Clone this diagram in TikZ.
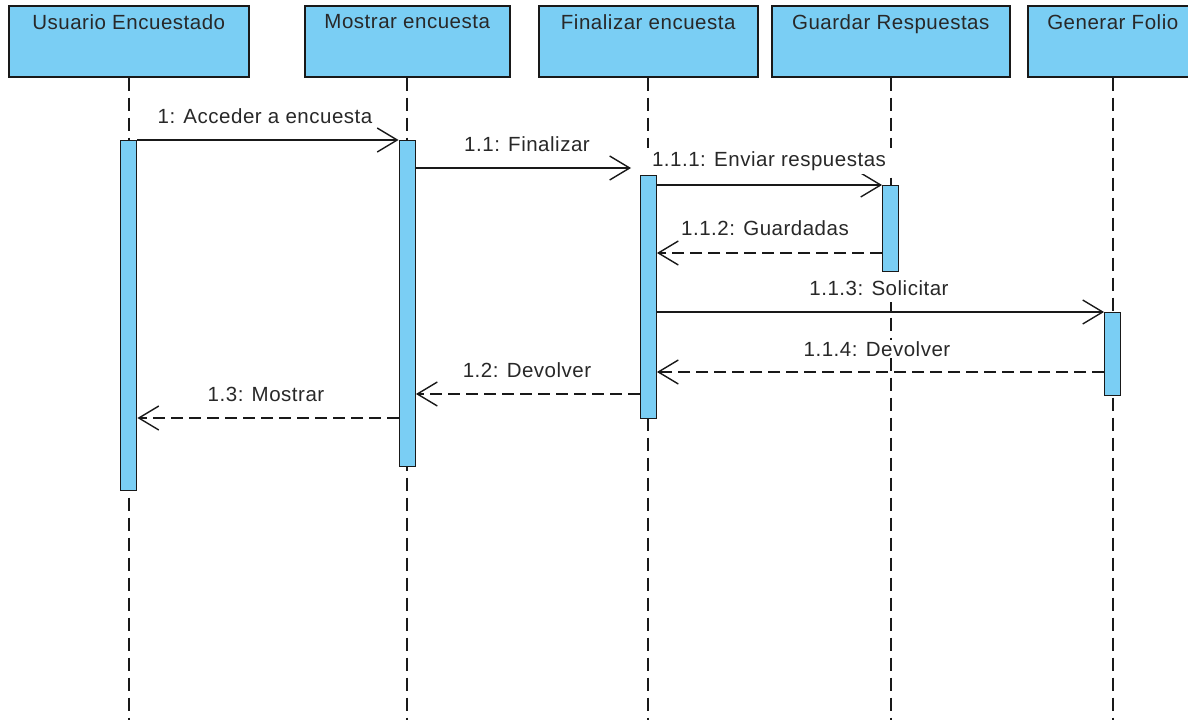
\documentclass[tikz,border=0pt]{standalone}
\usepackage{fontspec}
\setmainfont{Liberation Sans}[LetterSpace=2.5]
\usetikzlibrary{arrows.meta}
\definecolor{lblue}{RGB}{122,206,244}
\definecolor{ink}{RGB}{25,25,25}
\definecolor{txt}{RGB}{40,40,40}
\begin{document}
\begin{tikzpicture}[x=1pt,y=-1pt,
  head/.style={draw=ink, fill=lblue, line width=1.5pt, minimum height=71pt, anchor=north west, inner sep=0pt},
  htext/.style={font=\fontsize{20.5}{24}\selectfont, text=txt, anchor=north, inner sep=0pt},
  life/.style={draw=ink, line width=1.6pt, dash pattern=on 13pt off 7pt},
  bar/.style={draw=ink, fill=lblue, line width=1.4pt, minimum width=16pt, anchor=north, inner sep=0pt},
  msg/.style={draw=ink, line width=1.4pt, -{Straight Barb[length=20pt,width=24pt,line width=1.4pt]}},
  ret/.style={msg, dash pattern=on 12pt off 6pt},
  lbl/.style={font=\fontsize{20.5}{24}\selectfont, text=txt, fill=white, inner sep=1.5pt}
]
\useasboundingbox (0,0) rectangle (1188,720);
\fill[white] (0,0) rectangle (1188,720);

% headers
\node[head, minimum width=240pt] (h1) at (8,5) {};
\node[head, minimum width=205pt] (h2) at (304,5) {};
\node[head, minimum width=219pt] (h3) at (538,5) {};
\node[head, minimum width=238pt] (h4) at (771,5) {};
\node[head, minimum width=170pt] (h5) at (1027,5) {};
\node[htext] (t1) at ([yshift=-9pt]h1.north) {Usuario Encuestado};
\node[htext] (t2) at ([yshift=-9pt]h2.north) {Mostrar encuesta};
\node[htext] (t3) at ([yshift=-9pt]h3.north) {Finalizar encuesta};
\node[htext] (t4) at ([yshift=-9pt]h4.north) {Guardar Respuestas};
\node[htext] (t5) at ([yshift=-9pt]h5.north) {Generar Folio};

% lifeline ends
\coordinate (e1) at (h1.south |- 0,720);
\coordinate (e2) at (h2.south |- 0,720);
\coordinate (e3) at (h3.south |- 0,720);
\coordinate (e4) at (h4.south |- 0,720);
\coordinate (e5) at (h5.south |- 0,720);
\draw[life] (h1.south) -- (e1);
\draw[life] (h2.south) -- (e2);
\draw[life] (h3.south) -- (e3);
\draw[life] (h4.south) -- (e4);
\draw[life] (h5.south) -- (e5);

% activation bars
\node[bar, minimum height=350pt] (a1) at (h1.south |- 0,140) {};
\node[bar, minimum height=326pt] (a2) at (h2.south |- 0,140) {};
\node[bar, minimum height=243pt] (a3) at (h3.south |- 0,175) {};
\node[bar, minimum height=86pt] (a4) at (h4.south |- 0,185) {};
\node[bar, minimum height=83pt] (a5) at (h5.south |- 0,312) {};

% messages
\coordinate (m2end) at (631,168);
\draw[msg] (a1.north east) -- (a2.north west);
\draw[msg] (a2.east |- 0,168) -- (m2end);
\draw[msg] (a3.east |- 0,185) -- (a4.north west);
\draw[ret] (a4.west |- 0,253) -- (a3.east |- 0,253);
\draw[msg] (a3.east |- 0,312) -- (a5.north west);
\draw[ret] (a5.west |- 0,372) -- (a3.east |- 0,372);
\draw[ret] (a3.west |- 0,394) -- (a2.east |- 0,394);
\draw[ret] (a2.west |- 0,418) -- (a1.east |- 0,418);

% labels
\node[lbl] (l1) at (265,116) {1: Acceder a encuesta};
\node[lbl] (l2) at (527,144) {1.1: Finalizar};
\node[lbl, inner xsep=14pt, inner ysep=3pt] (l3) at (769,161) {1.1.1: Enviar respuestas};
\node[lbl] (l4) at (765,228) {1.1.2: Guardadas};
\node[lbl, inner ysep=6pt] (l5) at (879,288) {1.1.3: Solicitar};
\node[lbl] (l6) at (877,349) {1.1.4: Devolver};
\node[lbl] (l7) at (527,370) {1.2: Devolver};
\node[lbl] (l8) at (266,394) {1.3: Mostrar};
\end{tikzpicture}
\end{document}
